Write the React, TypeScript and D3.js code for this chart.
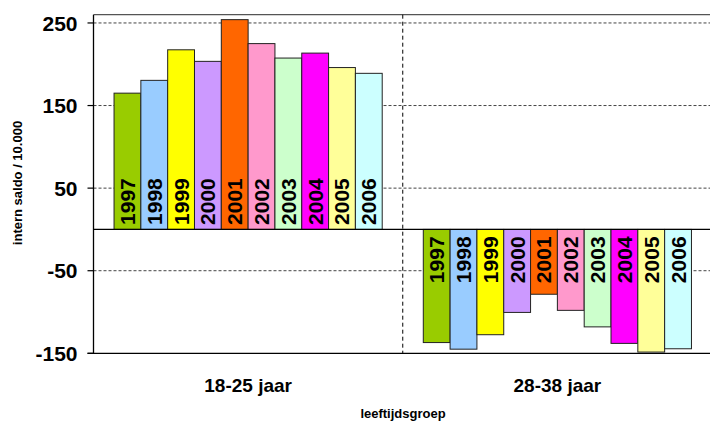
import React from "react";
import * as d3 from "d3";

// Age groups on the x axis and the years drawn as bars within each group
const groups = ["18-25 jaar", "28-38 jaar"];
const years = ["1997", "1998", "1999", "2000", "2001", "2002", "2003", "2004", "2005", "2006"];

// Internal migration balance per 10.000, one value per year
const saldo1825 = [165, 180.5, 217.5, 203.5, 254, 225, 207.5, 213.5, 196, 189];
const saldo2838 = [-137, -145, -127.5, -100.5, -78.5, -98, -118, -138, -148.5, -144.5];

const yearColors = [
  "#99CC00", "#99CCFF", "#FFFF00", "#CC99FF", "#FF6600",
  "#FF99CC", "#CCFFCC", "#FF00FF", "#FFFF99", "#CCFFFF",
];

const yTicks = [250, 150, 50, -50, -150];

const W = 710;
const H = 421;
const FONT = "'Liberation Sans', Arial, sans-serif";

export default function App() {
  const left = 93.5;
  const right = 712;
  const top = 14.7;
  const bottom = 353.3;

  const x0 = d3.scaleBand<string>().domain(groups).range([left, right]).paddingInner(0).paddingOuter(0);
  const x1 = d3
    .scaleBand<string>()
    .domain(years)
    .range([0, x0.bandwidth()])
    .paddingInner(0)
    .paddingOuter(0.766);
  const y = d3.scaleLinear().domain([-150, 260]).range([bottom, top]);

  const series = [saldo1825, saldo2838];
  const y0 = y(0);

  return (
    <svg
      width={W}
      height={H}
      style={{ position: "absolute", left: 0, top: 0, background: "#fff" }}
      fontFamily={FONT}
    >
      {/* plot frame top */}
      <line x1={left} x2={right} y1={top} y2={top} stroke="#555" strokeWidth={1.3} />

      {/* dashed gridlines */}
      {yTicks
        .filter((t) => t !== -150)
        .map((t) => (
          <line
            key={"g" + t}
            x1={left}
            x2={right}
            y1={y(t)}
            y2={y(t)}
            stroke="#444"
            strokeWidth={1}
            strokeDasharray="3,2"
          />
        ))}

      {/* category divider */}
      <line
        x1={x0(groups[1])}
        x2={x0(groups[1])}
        y1={top}
        y2={bottom}
        stroke="#000"
        strokeWidth={1}
        strokeDasharray="4,3"
      />

      {/* bars */}
      {groups.map((g, gi) =>
        years.map((yr, i) => {
          const v = series[gi][i];
          const bx = (x0(g) as number) + (x1(yr) as number);
          const bw = x1.bandwidth();
          const yTop = Math.min(y(v), y0);
          const h = Math.abs(y(v) - y0);
          return (
            <rect
              key={g + yr}
              x={bx}
              y={yTop}
              width={bw}
              height={h}
              fill={yearColors[i]}
              stroke="#222"
              strokeWidth={1}
            />
          );
        })
      )}

      {/* year labels inside the bars, rotated */}
      {groups.map((g, gi) =>
        years.map((yr, i) => {
          const v = series[gi][i];
          const cx = (x0(g) as number) + (x1(yr) as number) + x1.bandwidth() / 2;
          const pos = v >= 0;
          const ay = pos ? y0 - 4.5 : y0 + 7;
          return (
            <text
              key={"l" + g + yr}
              transform={`translate(${cx + 7.5},${ay}) rotate(-90)`}
              textAnchor={pos ? "start" : "end"}
              fontSize={21}
              fontWeight="bold"
              fill="#000"
            >
              {yr}
            </text>
          );
        })
      )}

      {/* zero line and bottom axis */}
      <line x1={left} x2={right} y1={y0} y2={y0} stroke="#000" strokeWidth={1.2} />
      <line x1={left - 6} x2={right} y1={bottom} y2={bottom} stroke="#000" strokeWidth={1.3} />

      {/* y axis */}
      <line x1={left} x2={left} y1={top} y2={bottom} stroke="#000" strokeWidth={1.3} />
      {yTicks.map((t) => (
        <g key={"t" + t}>
          <line x1={left - 6} x2={left} y1={y(t)} y2={y(t)} stroke="#000" strokeWidth={1.2} />
          <text
            x={left - 16}
            y={y(t)}
            dy="0.36em"
            textAnchor="end"
            fontSize={21}
            fontWeight="bold"
            fill="#000"
          >
            {t}
          </text>
        </g>
      ))}

      {/* group labels */}
      {groups.map((g) => (
        <text
          key={"c" + g}
          x={(x0(g) as number) + x0.bandwidth() / 2}
          y={392}
          textAnchor="middle"
          fontSize={19}
          fontWeight="bold"
          fill="#000"
        >
          {g}
        </text>
      ))}

      {/* axis titles */}
      <text
        transform={`translate(22,183) rotate(-90)`}
        textAnchor="middle"
        fontSize={13}
        fontWeight="bold"
        fill="#000"
      >
        intern saldo / 10.000
      </text>
      <text x={403} y={418} textAnchor="middle" fontSize={13} fontWeight="bold" fill="#000">
        leeftijdsgroep
      </text>
    </svg>
  );
}
